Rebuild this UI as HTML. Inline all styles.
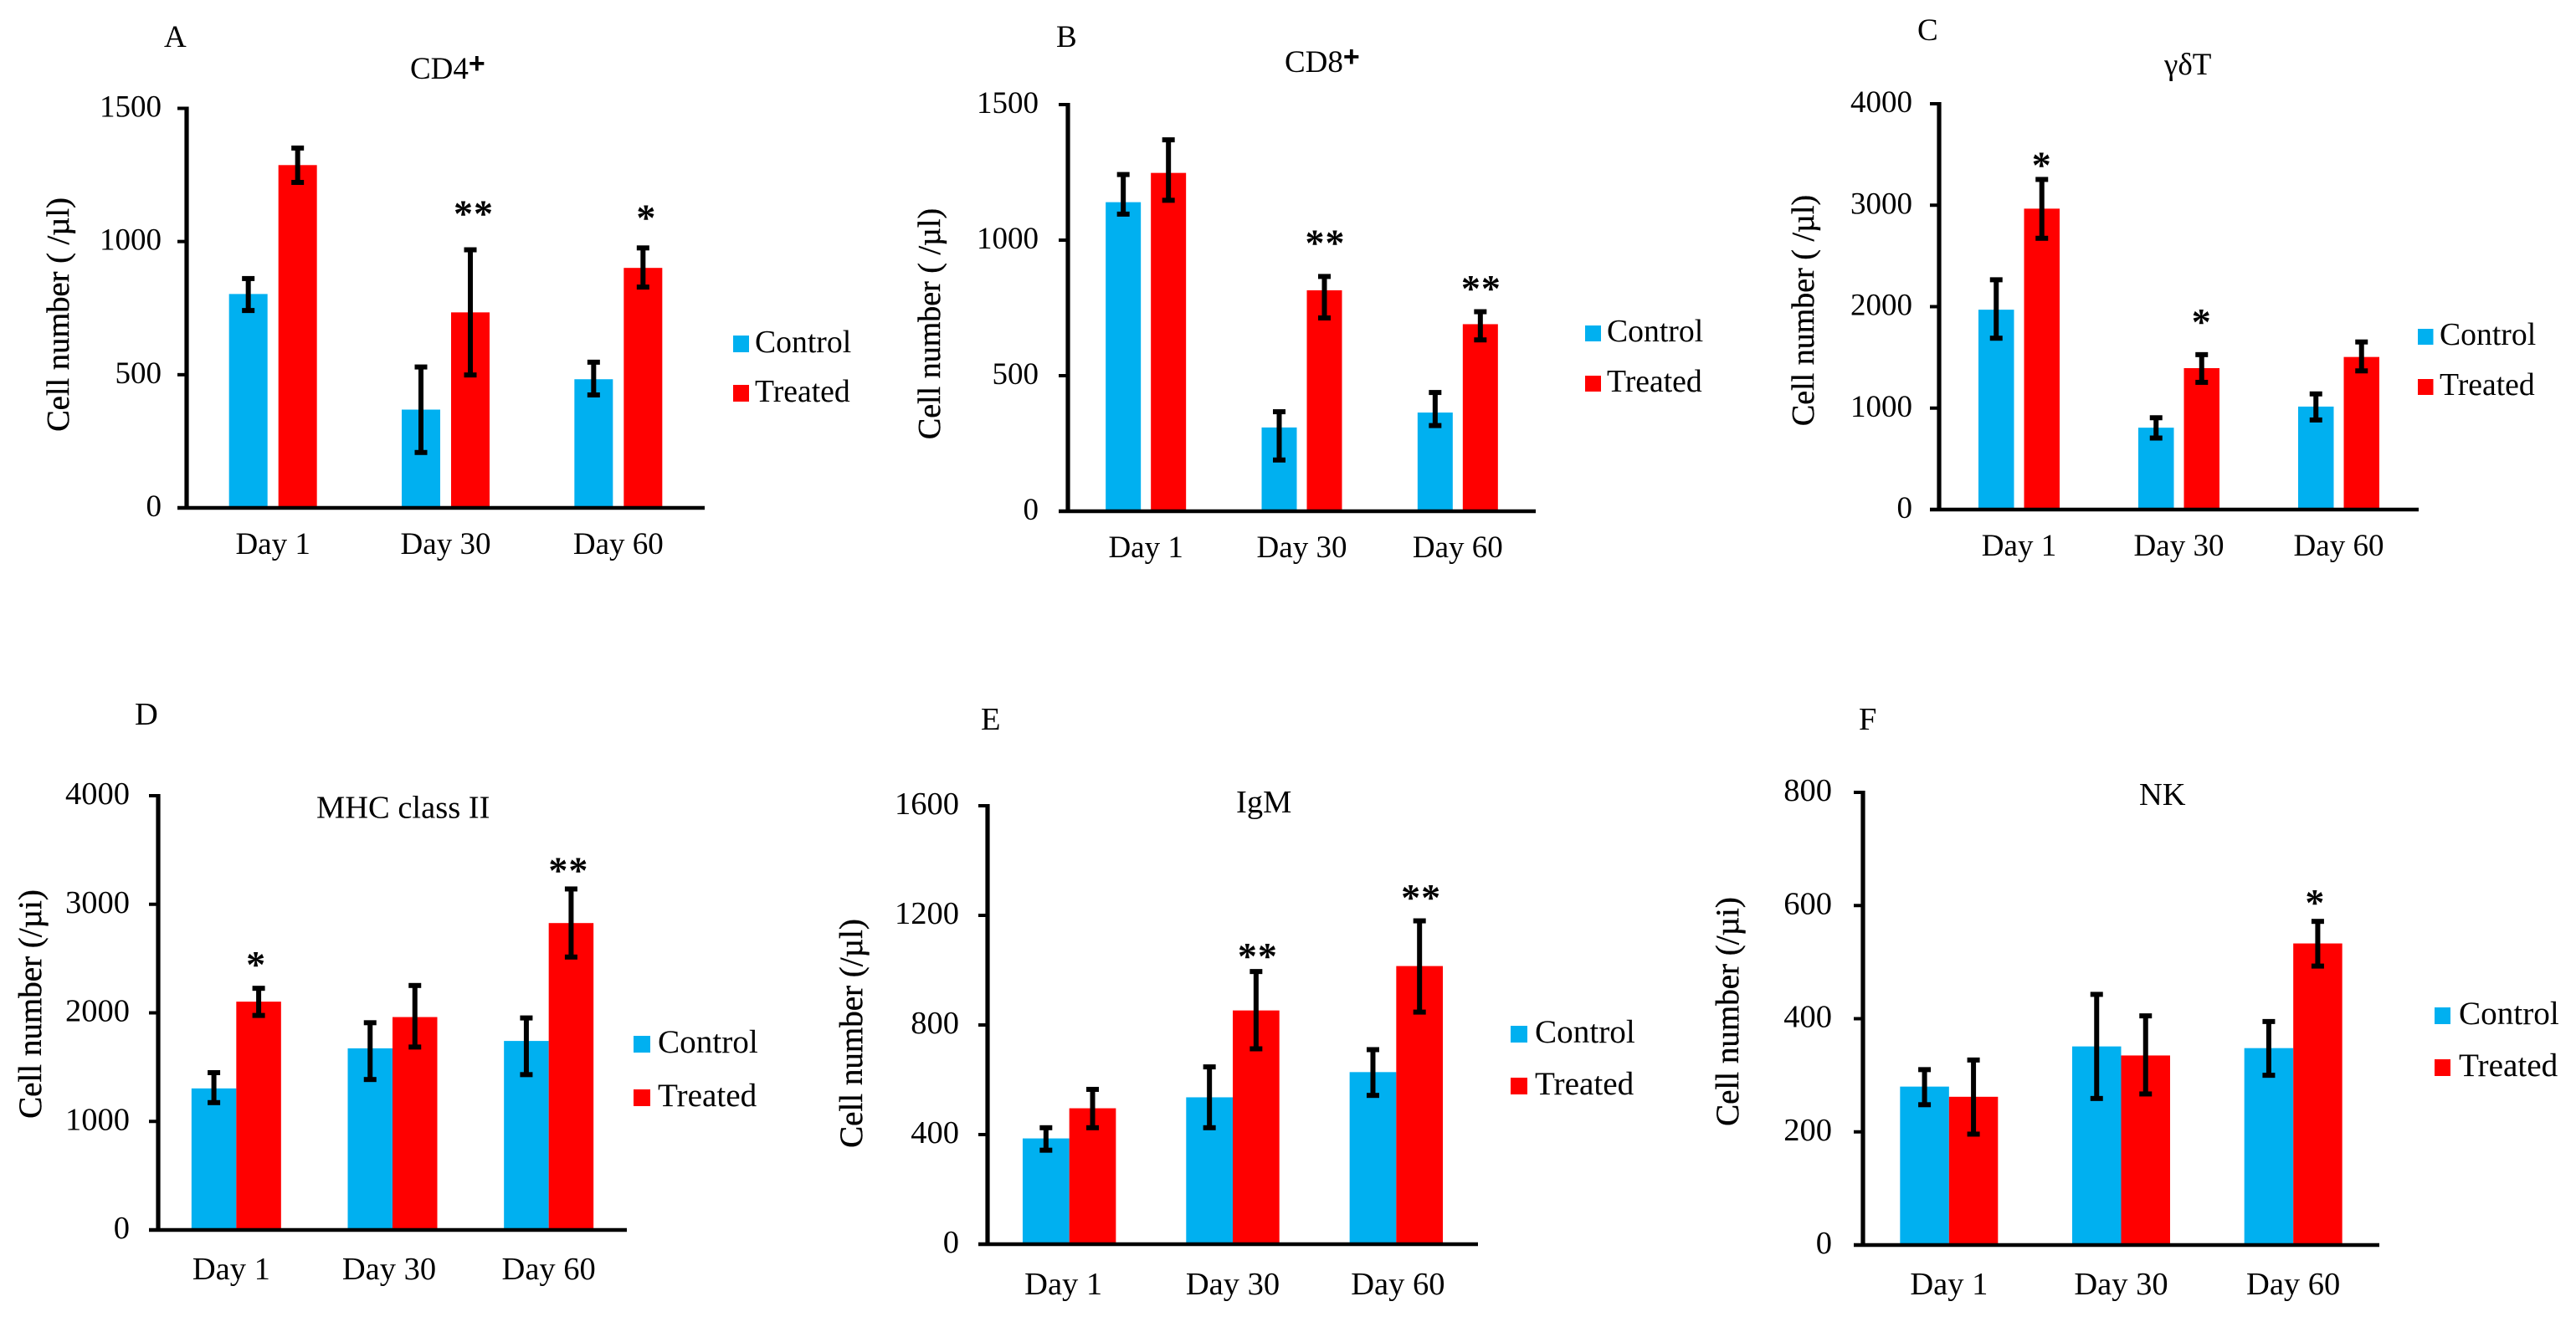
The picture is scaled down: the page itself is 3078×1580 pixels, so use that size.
<!DOCTYPE html>
<html lang="en">
<head>
<meta charset="utf-8">
<title>Cell number panels</title>
<style>
html,body{margin:0;padding:0;background:#fff;}
svg{display:block;}
text{font-family:"Liberation Serif","DejaVu Serif",serif;fill:#000;}
</style>
</head>
<body>
<svg id="figure" xmlns="http://www.w3.org/2000/svg" width="3078" height="1580" viewBox="0 0 3078 1580"></svg>
<script>
const categories = ['Day 1', 'Day 30', 'Day 60'];
const seriesNames = ['Control', 'Treated'];

const cd4Ticks = [0, 500, 1000, 1500];
const cd4Control = [803, 369, 483];
const cd4ControlHigh = [861, 529, 547];
const cd4ControlLow = [741, 208, 424];
const cd4Treated = [1287, 734, 901];
const cd4TreatedHigh = [1351, 969, 976];
const cd4TreatedLow = [1222, 499, 829];
const cd4Stars = ['', '**', '*'];
const cd4StarValues = [0, 1123, 1108];

const cd8Ticks = [0, 500, 1000, 1500];
const cd8Control = [1140, 309, 364];
const cd8ControlHigh = [1242, 367, 438];
const cd8ControlLow = [1096, 189, 316];
const cd8Treated = [1248, 815, 690];
const cd8TreatedHigh = [1370, 866, 736];
const cd8TreatedLow = [1147, 713, 632];
const cd8Stars = ['', '**', '**'];
const cd8StarValues = [0, 1008, 840];

const gdtTicks = [0, 1000, 2000, 3000, 4000];
const gdtControl = [1970, 807, 1015];
const gdtControlHigh = [2265, 905, 1140];
const gdtControlLow = [1689, 705, 883];
const gdtTreated = [2966, 1394, 1504];
const gdtTreatedHigh = [3254, 1527, 1652];
const gdtTreatedLow = [2674, 1254, 1367];
const gdtStars = ['*', '*', ''];
const gdtStarValues = [3443, 1898, 0];

const mhcTicks = [0, 1000, 2000, 3000, 4000];
const mhcControl = [1304, 1673, 1741];
const mhcControlHigh = [1449, 1909, 1953];
const mhcControlLow = [1173, 1386, 1431];
const mhcTreated = [2103, 1961, 2827];
const mhcTreatedHigh = [2226, 2252, 3141];
const mhcTreatedLow = [1976, 1685, 2514];
const mhcStars = ['*', '', '**'];
const mhcStarValues = [2488, 0, 3358];

const igmTicks = [0, 400, 800, 1200, 1600];
const igmControl = [386, 536, 628];
const igmControlHigh = [425, 647, 710];
const igmControlLow = [343, 425, 543];
const igmTreated = [496, 853, 1015];
const igmTreatedHigh = [565, 995, 1180];
const igmTreatedLow = [425, 713, 847];
const igmStars = ['', '**', '**'];
const igmStarValues = [0, 1069, 1283];

const nkTicks = [0, 200, 400, 600, 800];
const nkControl = [280, 351, 348];
const nkControlHigh = [310, 443, 395];
const nkControlLow = [248, 259, 300];
const nkTreated = [262, 335, 533];
const nkTreatedHigh = [327, 405, 572];
const nkTreatedLow = [196, 267, 493];
const nkStars = ['', '', '*'];
const nkStarValues = [0, 0, 614];

const panels = [
  {key:'cd4', letter:'A', title:'CD4', plus:true, yTitle:'Cell number ( /µl)', ticks:cd4Ticks,
   control:cd4Control, controlHigh:cd4ControlHigh, controlLow:cd4ControlLow,
   treated:cd4Treated, treatedHigh:cd4TreatedHigh, treatedLow:cd4TreatedLow,
   stars:cd4Stars, starValues:cd4StarValues,
   box:{left:223, right:842, top:129.5, bottom:607, barW:46, gap:13, font:37, yFont:38.5, tickEnd:193, dayBase:662, dayNudge:[0,0,0], titleX:490, titleY:94,
        letterX:196, letterY:56, legendX:876, legendTextX:902, legendY1:401, legendY2:460, swatchW:19, swatchH:20, yTitleX:82, yTitleY:376, starDx:4}},
  {key:'cd8', letter:'B', title:'CD8', plus:true, yTitle:'Cell number ( /µl)', ticks:cd8Ticks,
   control:cd8Control, controlHigh:cd8ControlHigh, controlLow:cd8ControlLow,
   treated:cd8Treated, treatedHigh:cd8TreatedHigh, treatedLow:cd8TreatedLow,
   stars:cd8Stars, starValues:cd8StarValues,
   box:{left:1276, right:1835, top:125, bottom:611, barW:42, gap:12, font:37, yFont:38, tickEnd:1241, dayBase:666, dayNudge:[0,0,0], titleX:1535, titleY:86,
        letterX:1262, letterY:56, legendX:1894, legendTextX:1920, legendY1:389, legendY2:449, swatchW:19, swatchH:19, yTitleX:1123, yTitleY:387, starDx:1}},
  {key:'gamma-delta-t', letter:'C', title:'γδT', plus:false, yTitle:'Cell number ( /µl)', ticks:gdtTicks,
   control:gdtControl, controlHigh:gdtControlHigh, controlLow:gdtControlLow,
   treated:gdtTreated, treatedHigh:gdtTreatedHigh, treatedLow:gdtTreatedLow,
   stars:gdtStars, starValues:gdtStarValues,
   box:{left:2317, right:2890, top:124, bottom:609, barW:42.5, gap:12, font:37, yFont:38, tickEnd:2285, dayBase:664, dayNudge:[0,0,0], titleX:2586, titleY:89,
        letterX:2291, letterY:48, legendX:2889, legendTextX:2915, legendY1:393, legendY2:453, swatchW:18.5, swatchH:19, yTitleX:2167, yTitleY:371, starDx:0}},
  {key:'mhc-class-ii', letter:'D', title:'MHC class II', plus:false, yTitle:'Cell number (/µi)', ticks:mhcTicks,
   control:mhcControl, controlHigh:mhcControlHigh, controlLow:mhcControlLow,
   treated:mhcTreated, treatedHigh:mhcTreatedHigh, treatedLow:mhcTreatedLow,
   stars:mhcStars, starValues:mhcStarValues,
   box:{left:189, right:749, top:951, bottom:1470, barW:53.5, gap:0, font:38.5, yFont:39, tickEnd:155, dayBase:1529, dayNudge:[-6,-4,0], titleX:378, titleY:977.5,
        letterX:161, letterY:866, legendX:757, legendTextX:786, legendY1:1238, legendY2:1302, swatchW:20, swatchH:20, yTitleX:49, yTitleY:1200, starDx:-3}},
  {key:'igm', letter:'E', title:'IgM', plus:false, yTitle:'Cell number (/µl)', ticks:igmTicks,
   control:igmControl, controlHigh:igmControlHigh, controlLow:igmControlLow,
   treated:igmTreated, treatedHigh:igmTreatedHigh, treatedLow:igmTreatedLow,
   stars:igmStars, starValues:igmStarValues,
   box:{left:1180, right:1766, top:963, bottom:1487, barW:55.7, gap:0, font:38.5, yFont:39, tickEnd:1146, dayBase:1547, dayNudge:[-7,0,2], titleX:1477, titleY:971,
        letterX:1172, letterY:872, legendX:1805, legendTextX:1834, legendY1:1226, legendY2:1288, swatchW:20, swatchH:20, yTitleX:1030, yTitleY:1235, starDx:2}},
  {key:'nk', letter:'F', title:'NK', plus:false, yTitle:'Cell number (/µi)', ticks:nkTicks,
   control:nkControl, controlHigh:nkControlHigh, controlLow:nkControlLow,
   treated:nkTreated, treatedHigh:nkTreatedHigh, treatedLow:nkTreatedLow,
   stars:nkStars, starValues:nkStarValues,
   box:{left:2226, right:2843, top:947, bottom:1488, barW:58.5, gap:0, font:38.5, yFont:39, tickEnd:2189, dayBase:1547, dayNudge:[0,0,0], titleX:2556, titleY:962,
        letterX:2221, letterY:872, legendX:2909, legendTextX:2938, legendY1:1204, legendY2:1266, swatchW:19, swatchH:20, yTitleX:2077, yTitleY:1209, starDx:-3}}
];

const SVG_NS = 'http://www.w3.org/2000/svg';
const BLUE = '#00B0F0';
const RED = '#FF0000';
const figure = document.getElementById('figure');

function make(parent, tag, attrs, content) {
  const node = document.createElementNS(SVG_NS, tag);
  for (const k in attrs) node.setAttribute(k, attrs[k]);
  if (content !== undefined) node.textContent = content;
  parent.appendChild(node);
  return node;
}

function drawErrorBar(group, x, yHigh, yLow, name) {
  const bar = make(group, 'g', {});
  
  
  make(bar, 'rect', {x: x - 3, y: yHigh, width: 6, height: yLow - yHigh, fill: '#000'});
  make(bar, 'rect', {x: x - 7.5, y: yHigh - 3, width: 15, height: 6, fill: '#000'});
  make(bar, 'rect', {x: x - 7.5, y: yLow - 3, width: 15, height: 6, fill: '#000'});
}

panels.forEach(function (p) {
  const b = p.box;
  const maxV = p.ticks[p.ticks.length - 1];
  const yScale = function (v) { return b.bottom - (v / maxV) * (b.bottom - b.top); };
  const band = (b.right - b.left) / categories.length;
  const xCenter = function (i) { return b.left + band * (i + 0.5); };
  const xControl = function (i) { return xCenter(i) - b.gap / 2 - b.barW / 2; };
  const xTreated = function (i) { return xCenter(i) + b.gap / 2 + b.barW / 2; };

  const g = make(figure, 'g', {});
  
  

  const letter = make(g, 'text', {x: b.letterX, y: b.letterY, 'font-size': b.font}, p.letter);
  
  

  const title = make(g, 'text', {x: b.titleX, y: b.titleY, 'font-size': b.font}, p.title);
  
  
  if (p.plus) {
    make(title, 'tspan', {dy: -7, 'font-size': 34, 'font-weight': 'bold', style: 'font-family:"Liberation Sans",sans-serif'}, '+');
  }

  const yTitle = make(g, 'text', {
    x: 0, y: 0, 'font-size': b.yFont, 'text-anchor': 'middle', stroke: '#000', 'stroke-width': 0.4,
    transform: 'translate(' + b.yTitleX + ',' + b.yTitleY + ') rotate(-90)'
  }, p.yTitle);
  
  

  categories.forEach(function (c, i) {
    const r1 = make(g, 'rect', {x: xControl(i) - b.barW / 2, y: yScale(p.control[i]), width: b.barW, height: b.bottom - yScale(p.control[i]), fill: BLUE});
    
    
    const r2 = make(g, 'rect', {x: xTreated(i) - b.barW / 2, y: yScale(p.treated[i]), width: b.barW, height: b.bottom - yScale(p.treated[i]), fill: RED});
    
    
  });

  categories.forEach(function (c, i) {
    drawErrorBar(g, xControl(i), yScale(p.controlHigh[i]), yScale(p.controlLow[i]), 'error-bar-control-day-' + c.split(' ')[1]);
    drawErrorBar(g, xTreated(i), yScale(p.treatedHigh[i]), yScale(p.treatedLow[i]), 'error-bar-treated-day-' + c.split(' ')[1]);
  });

  const yAxis = make(g, 'rect', {x: b.left - 2.6, y: b.top - 2, width: 5.2, height: b.bottom - b.top + 4, fill: '#000'});
  
  
  const xAxis = make(g, 'rect', {x: b.left - 11, y: b.bottom - 2.25, width: b.right - b.left + 11, height: 4.5, fill: '#000'});
  
  

  p.ticks.forEach(function (t) {
    const tick = make(g, 'rect', {x: b.left - 11, y: yScale(t) - 2, width: 11, height: 4, fill: '#000'});
    
    
    const label = make(g, 'text', {x: b.tickEnd, y: yScale(t) + 10, 'font-size': b.font, 'text-anchor': 'end'}, String(t));
    
    
  });

  categories.forEach(function (c, i) {
    const label = make(g, 'text', {x: xCenter(i) + b.dayNudge[i], y: b.dayBase, 'font-size': b.font, 'text-anchor': 'middle'}, c);
    
    
  });

  p.stars.forEach(function (s, i) {
    if (!s) return;
    const star = make(g, 'text', {x: xTreated(i) + b.starDx, y: yScale(p.starValues[i]) + 21, 'font-size': 46, 'font-weight': 'bold', 'letter-spacing': 1, 'text-anchor': 'middle'}, s);
    
    
  });

  seriesNames.forEach(function (n, i) {
    const ly = i === 0 ? b.legendY1 : b.legendY2;
    const entry = make(g, 'g', {});
    
    
    make(entry, 'rect', {x: b.legendX, y: ly, width: b.swatchW, height: b.swatchH, fill: i === 0 ? BLUE : RED});
    make(entry, 'text', {x: b.legendTextX, y: ly + b.swatchH, 'font-size': b.font + 0.7}, n);
  });
});
</script>
</body>
</html>
